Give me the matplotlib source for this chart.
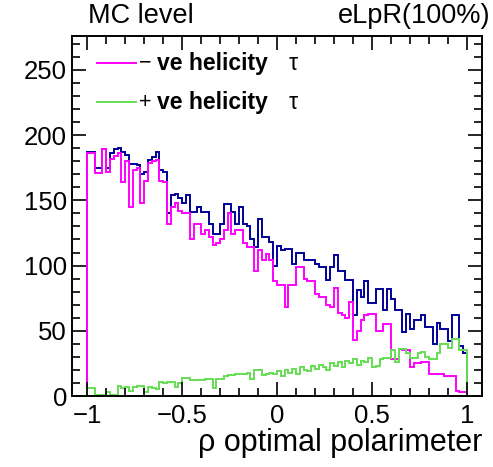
import numpy as np
import matplotlib
matplotlib.use("Agg")
import matplotlib.pyplot as plt
from matplotlib.ticker import MultipleLocator

plt.rcParams['font.family'] = ['Liberation Sans', 'DejaVu Sans']

# bin edges: 100 bins in [-1, 1]
edges = np.linspace(-1.0, 1.0, 101)

# navy: all events
all_hel = [187, 187, 175, 175, 189, 175, 186, 189, 190, 187,
           185, 178, 178, 177, 170, 172, 181, 183, 187, 173,
           172, 140, 154, 155, 152, 148, 154, 141, 141, 145,
           141, 141, 132, 124, 124, 132, 147, 147, 141, 132,
           145, 132, 130, 120, 114, 136, 122, 122, 118, 100,
           115, 112, 113, 113, 101, 110, 110, 104, 104, 104,
           101, 99, 99, 89, 99, 108, 96, 96, 89, 89,
           62, 81, 76, 88, 71, 71, 82, 82, 66, 82,
           74, 66, 66, 49, 63, 51, 58, 58, 62, 53,
           53, 40, 56, 51, 51, 42, 62, 62, 38, 33]

# magenta: -ve helicity tau
neg_hel = [186, 186, 171, 171, 189, 172, 182, 184, 186, 164,
           180, 145, 173, 175, 148, 165, 179, 180, 181, 165,
           164, 132, 145, 148, 142, 140, 140, 120, 132, 132,
           124, 127, 122, 116, 117, 120, 127, 140, 124, 127,
           127, 117, 114, 114, 96, 112, 104, 109, 104, 88,
           85, 85, 68, 85, 85, 99, 99, 90, 88, 88,
           78, 76, 76, 70, 68, 83, 64, 62, 60, 72,
           43, 50, 58, 62, 63, 63, 50, 50, 55, 55,
           28, 28, 36, 35, 35, 22, 25, 25, 26, 26,
           17, 17, 17, 17, 15, 15, 15, 4, 3, 3]

# green: +ve helicity tau
pos_hel = [6, 6, 1, 1, 1, 3, 1, 1, 8, 6,
           7, 4, 7, 8, 8, 3, 7, 6, 5, 11,
           10, 11, 11, 7, 10, 14, 14, 12, 12, 12,
           12, 13, 13, 6, 13, 13, 15, 16, 16, 17,
           17, 17, 18, 13, 20, 20, 16, 17, 18, 17,
           19, 15, 20, 18, 21, 17, 22, 20, 19, 23,
           21, 24, 22, 20, 25, 23, 26, 22, 27, 25,
           28, 24, 27, 26, 29, 22, 23, 28, 29, 29,
           35, 26, 36, 36, 33, 29, 29, 33, 34, 30,
           28, 28, 33, 40, 40, 37, 44, 44, 35, 35]

fig = plt.figure(figsize=(4.93, 4.67), dpi=100)
ax = fig.add_axes([0.146, 0.152, 0.832, 0.771])

lw = 1.4
ax.stairs(all_hel, edges, color='#000099', lw=lw)
ax.stairs(neg_hel, edges, color='#ff00ff', lw=lw)
ax.stairs(pos_hel, edges, color='#66dd55', lw=lw)
ax.plot([-1.08, -1.0], [0, 0], color='#66dd55', lw=lw)
ax.plot([1.0, 1.08], [0, 0], color='#66dd55', lw=lw)

ax.set_xlim(-1.08, 1.08)
ax.set_ylim(0, 276)

ax.xaxis.set_minor_locator(MultipleLocator(0.1))
ax.yaxis.set_major_locator(MultipleLocator(50))
ax.yaxis.set_minor_locator(MultipleLocator(10))
ax.tick_params(which='both', direction='in', top=True, right=True, labelsize=18.5, width=1.2)
ax.tick_params(which='major', length=10)
ax.tick_params(which='minor', length=5.5)
ax.tick_params(axis='x', pad=6)
ax.set_xticks([-1, -0.5, 0, 0.5, 1])
ax.set_xticklabels(['\u22121', '\u22120.5', '0', '0.5', '1'])
for s in ax.spines.values():
    s.set_linewidth(1.4)

ax.set_xlabel('\u03c1 optimal polarimeter', fontsize=22, loc='right', labelpad=0)

fig.text(0.178, 0.965, 'MC level', fontsize=19.5, va='center', ha='left')
fig.text(0.995, 0.965, 'eLpR(100%)', fontsize=19.5, va='center', ha='right')

# legend
lx0, lx1 = -0.95, -0.745
fs = 16.5
ax.plot([lx0, lx1], [255, 255], color='#ff00ff', lw=lw)
ax.text(-0.725, 255, '\u2212', fontsize=fs - 1, va='center', ha='left')
ax.text(-0.632, 255, 've helicity', fontsize=fs, va='center', ha='left', fontweight='bold')
ax.text(0.06, 255, '\u03c4', fontsize=fs, va='center', ha='left')
ax.plot([lx0, lx1], [225, 225], color='#66dd55', lw=lw)
ax.text(-0.725, 225, '+', fontsize=fs - 1, va='center', ha='left')
ax.text(-0.632, 225, 've helicity', fontsize=fs, va='center', ha='left', fontweight='bold')
ax.text(0.06, 225, '\u03c4', fontsize=fs, va='center', ha='left')

fig.savefig('out.png', dpi=100)
